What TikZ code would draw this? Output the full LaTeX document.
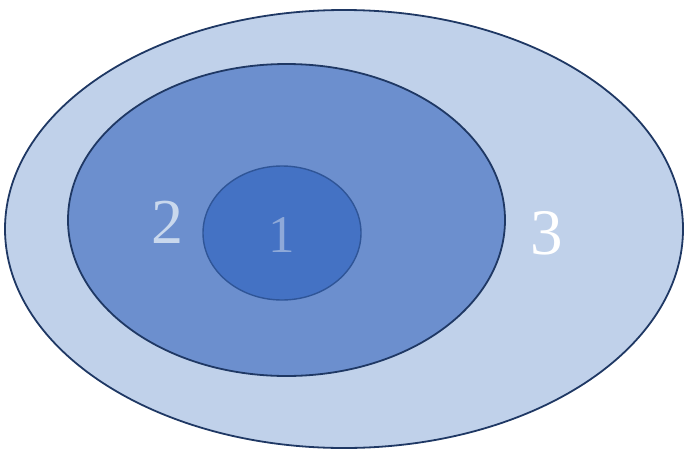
\documentclass[tikz,border=0pt]{standalone}
\usepackage{fontspec}
\setmainfont{Liberation Serif}
\usetikzlibrary{shapes.geometric}
\definecolor{ringout}{HTML}{C0D1EA}
\definecolor{ringmid}{HTML}{6C8FCE}
\definecolor{ringin}{HTML}{4472C4}
\definecolor{navy}{HTML}{1F3864}
\definecolor{inedge}{HTML}{2F5597}

\begin{document}
\begin{tikzpicture}[
  x=1pt, y=-1pt,
  ring/.style={ellipse, inner sep=0pt, line width=1.8pt, draw=navy},
  num/.style={inner sep=0pt}
]
\useasboundingbox (0,0) rectangle (684,450);
\node[ring, fill=ringout, minimum width=678pt, minimum height=438pt] (outer) at (344,229) {};
\node[ring, fill=ringmid, minimum width=437pt, minimum height=312pt] (middle) at (286.5,220) {};
\node[ring, fill=ringin, draw=inedge, line width=1.4pt, minimum width=158pt, minimum height=134pt] (inner) at (282,233) {};
\node[num, text=ringout!85!white, font=\fontsize{64}{64}\selectfont] (two) at (167,222) {2};
\node[num, text=ringmid!60!ringout, font=\fontsize{53}{53}\selectfont] (one) at (282,235) {1};
\node[num, text=white, font=\fontsize{65}{65}\selectfont] (three) at (547,233) {3};
\end{tikzpicture}
\end{document}
